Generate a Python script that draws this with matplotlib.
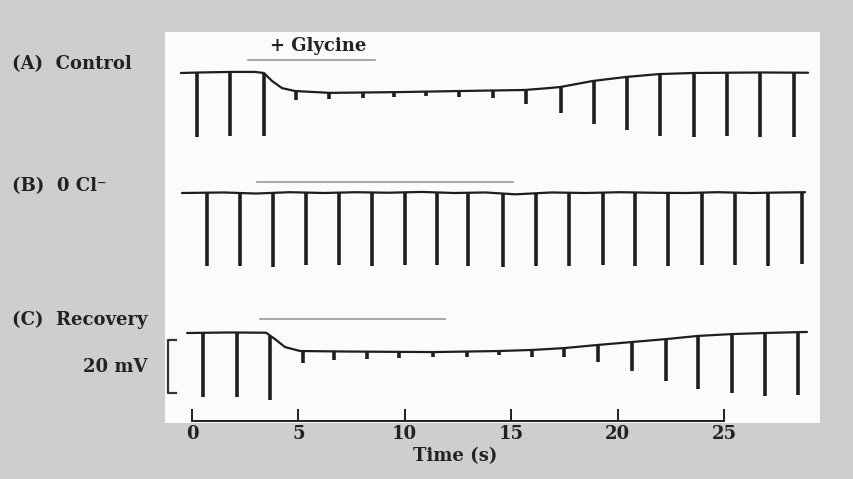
import numpy as np
import matplotlib.pyplot as plt
from matplotlib.patches import Rectangle

# (A) Control: stimulus-evoked hyperpolarizing deflections, time (s) and depth (mV)
spike_t_a = [0.23, 1.79, 3.38, 4.89, 6.44, 8.04, 9.49, 10.99, 12.55, 14.15,
             15.70, 17.34, 18.89, 20.44, 21.99, 23.59, 25.14, 26.69, 28.29]
spike_depth_a = [24.2, 24.2, 23.8, 3.4, 2.3, 1.9, 1.9, 1.5, 2.3, 3.0,
                 5.3, 9.8, 16.2, 20.0, 23.4, 24.2, 23.8, 24.2, 24.2]
# membrane potential relative to resting (mV)
base_t_a = [-0.52, 0.38, 1.79, 2.96, 3.38, 3.76, 4.23, 4.84, 6.48, 9.77,
            12.6, 15.65, 16.6, 17.3, 18.84, 20.39, 21.95, 23.54, 26.7, 28.95]
base_v_a = [0.0, 0.2, 0.4, 0.4, 0.0, -3.0, -5.7, -6.8, -7.5, -7.2,
            -6.8, -6.4, -5.8, -5.3, -3.0, -1.5, -0.4, 0.0, 0.2, 0.1]
glycine_a = (2.63, 8.6)

# (B) 0 Cl-
spike_t_b = [0.70, 2.26, 3.81, 5.36, 6.91, 8.46, 10.01, 11.51, 12.97, 14.61,
             16.16, 17.72, 19.32, 20.82, 22.37, 23.97, 25.52, 27.07, 28.67]
spike_depth_b = [27.5, 27.5, 27.9, 27.5, 27.5, 27.9, 27.5, 27.5, 27.5, 27.9,
                 27.5, 27.5, 27.5, 27.9, 27.5, 27.5, 27.5, 27.5, 27.1]
base_t_b = [-0.47, 1.5, 3.0, 4.6, 6.2, 7.7, 9.2, 10.8, 12.3, 13.8,
            15.2, 16.9, 18.5, 20.1, 21.6, 23.2, 24.7, 26.3, 27.8, 28.81]
base_v_b = [0.0, 0.2, -0.2, 0.3, 0.0, 0.3, 0.1, 0.4, 0.0, 0.2,
            -0.5, 0.2, 0.0, 0.3, 0.1, 0.0, 0.3, 0.0, 0.2, 0.3]
glycine_b = (3.05, 15.08)

# (C) Recovery
spike_t_c = [0.52, 2.11, 3.67, 5.22, 6.67, 8.22, 9.73, 11.33, 12.92, 14.43,
             15.98, 17.48, 19.08, 20.68, 22.27, 23.78, 25.38, 26.93, 28.48]
spike_depth_c = [24.2, 24.2, 24.2, 4.5, 3.4, 2.6, 2.3, 1.9, 1.9, 1.5,
                 2.6, 3.4, 6.4, 10.9, 15.8, 20.0, 22.3, 23.8, 23.8]
base_t_c = [-0.23, 1.8, 3.48, 3.9, 4.37, 5.08, 7.4, 11.33, 14.43, 15.98,
            17.48, 19.08, 20.68, 22.27, 23.78, 25.38, 26.93, 28.9]
base_v_c = [0.0, 0.2, 0.1, -2.3, -5.3, -6.8, -7.0, -7.2, -6.8, -6.4,
            -5.7, -4.5, -3.4, -2.3, -1.1, -0.4, 0.0, 0.4]
glycine_c = (3.2, 11.9)

time_ticks = [0, 5, 10, 15, 20, 25]
scale_mv = 20

W, H = 854, 479
PX_S = 21.28   # pixels per second
PX_MV = 2.65   # pixels per mV
X0 = 192       # pixel of t = 0

fig = plt.figure(figsize=(W / 100, H / 100), dpi=100, facecolor='#cecece')
ax = fig.add_axes([0, 0, 1, 1])
ax.set_xlim(-X0 / PX_S, (W - X0) / PX_S)
ax.set_ylim(0, H / PX_MV)
ax.axis('off')
ax.patch.set_alpha(0)

# white paper panel
ax.add_patch(Rectangle((-27 / PX_S, (H - 423) / PX_MV), 655 / PX_S, 391 / PX_MV,
                       facecolor='#fbfbfb', edgecolor='none', zorder=0))

ink = '#1e1e1e'


def row(ypix):
    return (H - ypix) / PX_MV


def trace(bt, bv, st, sd, off, bar, bar_y):
    bv = np.array(bv) + off
    ax.plot(bt, bv, color=ink, lw=1.6, solid_capstyle='round', zorder=3)
    top = np.interp(st, bt, bv)
    ax.vlines(st, top, top - np.array(sd), color=ink, lw=2.6, zorder=3)
    ax.plot(bar, [row(bar_y)] * 2, color='#999999', lw=1.2, zorder=2)


trace(base_t_a, base_v_a, spike_t_a, spike_depth_a, row(73), glycine_a, 60)
trace(base_t_b, base_v_b, spike_t_b, spike_depth_b, row(193), glycine_b, 182)
trace(base_t_c, base_v_c, spike_t_c, spike_depth_c, row(333), glycine_c, 319)

# 20 mV scale bracket
bx = (168 - X0) / PX_S
bx2 = (176 - X0) / PX_S
btop = row(340)
ax.plot([bx2, bx, bx, bx2], [btop, btop, btop - scale_mv, btop - scale_mv],
        color='#333333', lw=1.6, zorder=3)

font = dict(family='DejaVu Serif', fontweight='bold', color='#222222')


def label(xp, yp, s, size=13, ha='left'):
    fig.text(xp / W, 1 - yp / H, s, ha=ha, va='center', fontsize=size, **font)


label(12, 64, '(A)  Control')
label(12, 186, '(B)  0 Cl\u207b')
label(12, 320, '(C)  Recovery')
label(148, 367, '20 mV', ha='right')
label(318, 46, '+ Glycine', ha='center')

# time axis
tax = fig.add_axes([X0 / W, 1 - 421 / H, (724 - X0) / W, 0.01])
tax.set_xlim(0, 25)
tax.set_ylim(0, 1)
tax.patch.set_alpha(0)
for s in ['top', 'left', 'right']:
    tax.spines[s].set_visible(False)
tax.spines['bottom'].set_linewidth(1.4)
tax.spines['bottom'].set_color(ink)
tax.set_yticks([])
tax.set_xticks(time_ticks)
tax.set_xticklabels([str(t) for t in time_ticks])
tax.tick_params(axis='x', direction='in', length=9, width=1.4, color=ink, pad=3,
                labelsize=13)
for lbl in tax.get_xticklabels():
    lbl.set_fontfamily('DejaVu Serif')
    lbl.set_fontweight('bold')
    lbl.set_color('#222222')
label(455, 456, 'Time (s)', ha='center')

fig.savefig('out.png', dpi=100, facecolor=fig.get_facecolor())
